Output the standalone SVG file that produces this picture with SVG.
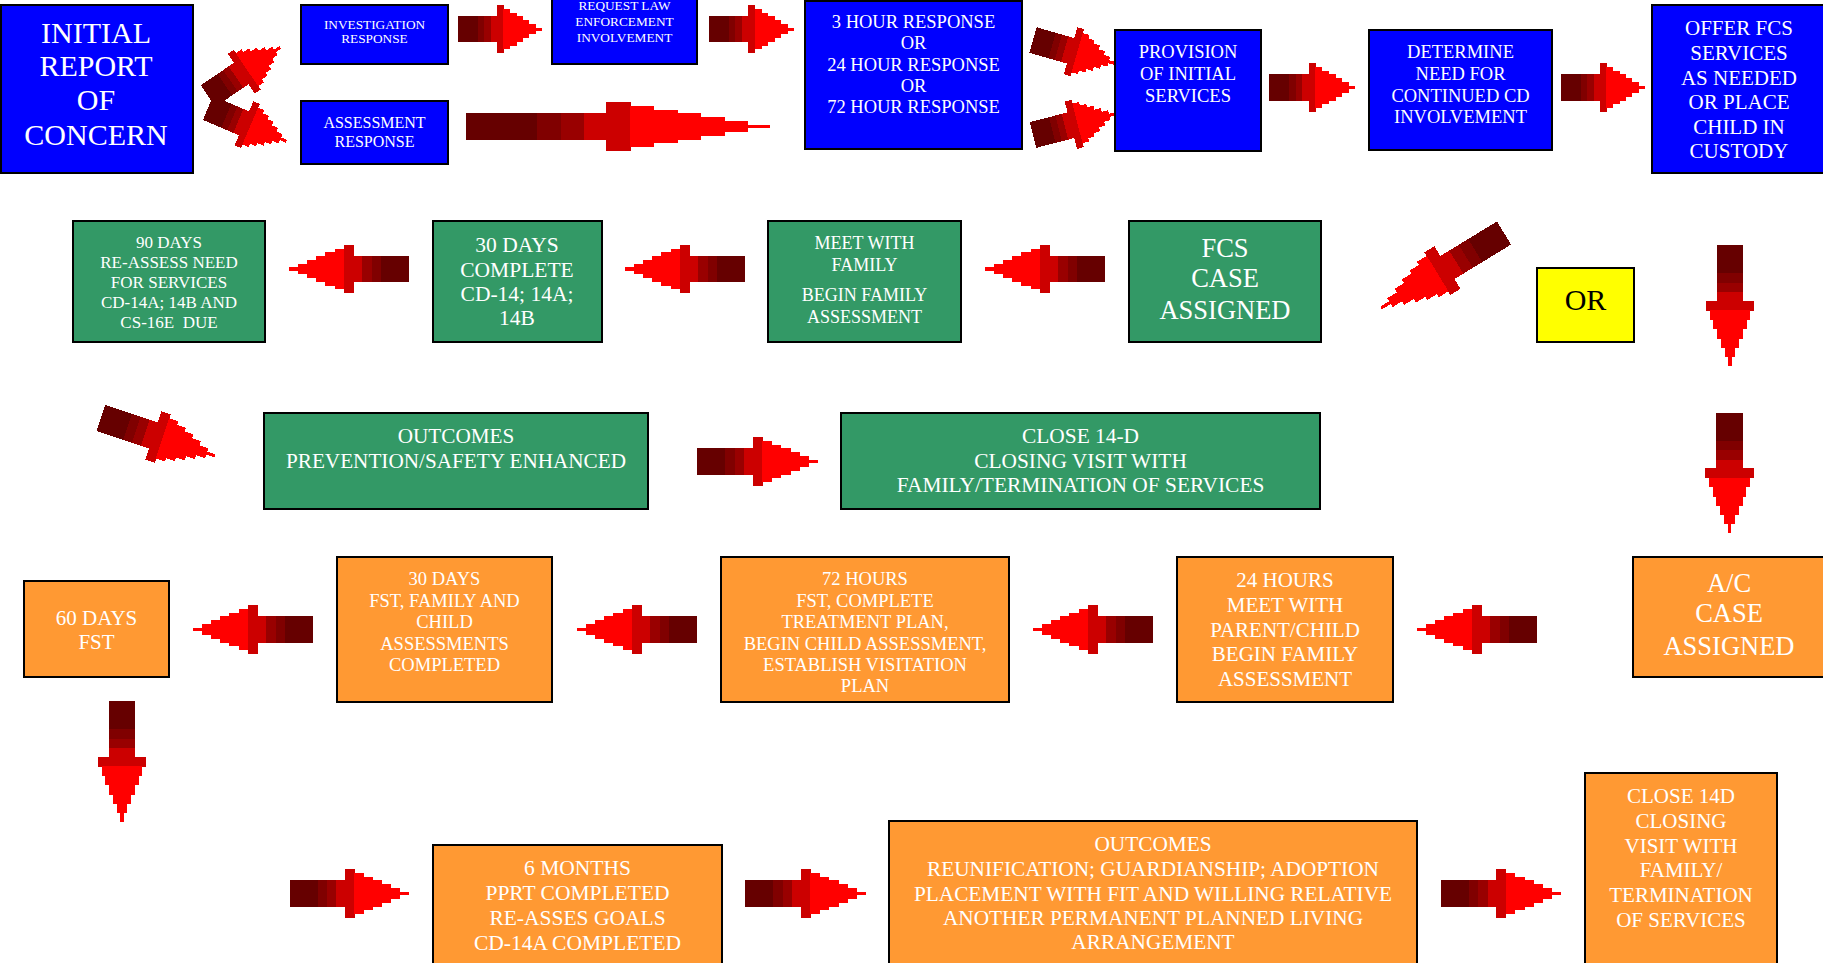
<svg xmlns="http://www.w3.org/2000/svg" xmlns:xlink="http://www.w3.org/1999/xlink" width="1823" height="963" viewBox="0 0 1823 963">
<style>
.box{stroke:#000;stroke-width:2}
.blue{fill:#0000FF}
.green{fill:#339966}
.orange{fill:#FF9933}
.yellow{fill:#FFFF00}
text{font-family:"Liberation Serif","Times New Roman",serif;fill:#fff;text-anchor:middle}
.dark{fill:#000}
</style>
<defs>
<g id="arrow" shape-rendering="crispEdges">
<rect x="0" y="-13" width="23.7" height="26" fill="#660000"/>
<rect x="23.4" y="-13" width="8" height="26" fill="#800000"/>
<rect x="31.1" y="-13" width="8" height="26" fill="#990000"/>
<rect x="38.8" y="-13" width="7.5" height="26" fill="#CC0000"/>
<rect x="46" y="-24" width="8.3" height="48" fill="#CC0000"/>
<rect x="54" y="-20" width="8" height="40" fill="#FF0000"/>
<rect x="61.7" y="-16.5" width="8" height="33" fill="#FF0000"/>
<rect x="69.4" y="-13" width="8" height="26" fill="#FF0000"/>
<rect x="77.1" y="-9" width="8" height="18" fill="#FF0000"/>
<rect x="84.8" y="-5" width="8" height="10" fill="#FF0000"/>
<rect x="92.5" y="-1.5" width="7.5" height="3" fill="#FF0000"/>
</g>
</defs>
<rect width="1823" height="963" fill="#fff"/>

<g id="connectors">
<use xlink:href="#arrow" transform="translate(208 96) rotate(-34) scale(0.87 1)"/>
<use xlink:href="#arrow" transform="translate(208 108) rotate(23) scale(0.85 1)"/>
<use xlink:href="#arrow" transform="translate(458 29) scale(0.84 1)"/>
<use xlink:href="#arrow" transform="translate(709 29) scale(0.85 1)"/>
<use xlink:href="#arrow" transform="translate(466 126.5) scale(3.04 1.02)"/>
<use xlink:href="#arrow" transform="translate(1033 40) rotate(16) scale(0.85 1.02)"/>
<use xlink:href="#arrow" transform="translate(1033 135) rotate(-14.5) scale(0.85 1.02)"/>
<use xlink:href="#arrow" transform="translate(1269 87.5) scale(0.86 1.02)"/>
<use xlink:href="#arrow" transform="translate(1561 87.5) scale(0.84 1.02)"/>
<use xlink:href="#arrow" transform="translate(1730 245) rotate(90) scale(1.21 1.02)"/>
<use xlink:href="#arrow" transform="translate(1504 233) rotate(148.6) scale(1.44 1.04)"/>
<use xlink:href="#arrow" transform="translate(409 269) rotate(180) scale(1.2 1.01)"/>
<use xlink:href="#arrow" transform="translate(745 269) rotate(180) scale(1.2 1.01)"/>
<use xlink:href="#arrow" transform="translate(1105 269) rotate(180) scale(1.2 1.01)"/>
<use xlink:href="#arrow" transform="translate(101 418) rotate(18.4) scale(1.2 1.06)"/>
<use xlink:href="#arrow" transform="translate(697 461.5) scale(1.21 1.02)"/>
<use xlink:href="#arrow" transform="translate(1729.5 413) rotate(90) scale(1.2 1.02)"/>
<use xlink:href="#arrow" transform="translate(313 629.5) rotate(180) scale(1.2 1.02)"/>
<use xlink:href="#arrow" transform="translate(697 629.5) rotate(180) scale(1.2 1.02)"/>
<use xlink:href="#arrow" transform="translate(1153 629.5) rotate(180) scale(1.2 1.02)"/>
<use xlink:href="#arrow" transform="translate(1537 629.5) rotate(180) scale(1.2 1.02)"/>
<use xlink:href="#arrow" transform="translate(122 701) rotate(90) scale(1.21 1.02)"/>
<use xlink:href="#arrow" transform="translate(290 893.5) scale(1.19 1.02)"/>
<use xlink:href="#arrow" transform="translate(745 893.5) scale(1.21 1.02)"/>
<use xlink:href="#arrow" transform="translate(1441 893.5) scale(1.2 1.02)"/>
</g>

<g id="initial-report">
<rect class="box blue" x="1" y="5" width="192" height="168"/>
<text font-size="30" x="96"><tspan x="96" y="43">INITIAL</tspan><tspan x="96" y="76">REPORT</tspan><tspan x="96" y="110">OF</tspan><tspan x="96" y="145">CONCERN</tspan></text>
</g>
<g id="investigation-response">
<rect class="box blue" x="301" y="5" width="147" height="59"/>
<text font-size="13.3"><tspan x="374.5" y="29">INVESTIGATION</tspan><tspan x="374.5" y="43">RESPONSE</tspan></text>
</g>
<g id="assessment-response">
<rect class="box blue" x="301" y="101" width="147" height="63"/>
<text font-size="16"><tspan x="374.5" y="128">ASSESSMENT</tspan><tspan x="374.5" y="147">RESPONSE</tspan></text>
</g>
<g id="request-law">
<rect class="box blue" x="552" y="-2" width="145" height="66"/>
<text font-size="13.3"><tspan x="624.5" y="10">REQUEST LAW</tspan><tspan x="624.5" y="26">ENFORCEMENT</tspan><tspan x="624.5" y="42">INVOLVEMENT</tspan></text>
</g>
<g id="hour-response">
<rect class="box blue" x="805" y="1" width="217" height="148"/>
<text font-size="18.5"><tspan x="913.5" y="28">3 HOUR RESPONSE</tspan><tspan x="913.5" y="49">OR</tspan><tspan x="913.5" y="71">24 HOUR RESPONSE</tspan><tspan x="913.5" y="92">OR</tspan><tspan x="913.5" y="113">72 HOUR RESPONSE</tspan></text>
</g>
<g id="provision">
<rect class="box blue" x="1115" y="30" width="146" height="121"/>
<text font-size="18.5"><tspan x="1188" y="58">PROVISION</tspan><tspan x="1188" y="80">OF INITIAL</tspan><tspan x="1188" y="102">SERVICES</tspan></text>
</g>
<g id="determine">
<rect class="box blue" x="1369" y="30" width="183" height="120"/>
<text font-size="18.5"><tspan x="1460.5" y="58">DETERMINE</tspan><tspan x="1460.5" y="80">NEED FOR</tspan><tspan x="1460.5" y="102">CONTINUED CD</tspan><tspan x="1460.5" y="123">INVOLVEMENT</tspan></text>
</g>
<g id="offer-fcs">
<rect class="box blue" x="1652" y="5" width="174" height="168"/>
<text font-size="21"><tspan x="1739" y="35">OFFER FCS</tspan><tspan x="1739" y="60">SERVICES</tspan><tspan x="1739" y="85">AS NEEDED</tspan><tspan x="1739" y="109">OR PLACE</tspan><tspan x="1739" y="134">CHILD IN</tspan><tspan x="1739" y="158">CUSTODY</tspan></text>
</g>

<g id="days-90">
<rect class="box green" x="73" y="221" width="192" height="121"/>
<text font-size="17" xml:space="preserve"><tspan x="169" y="248">90 DAYS</tspan><tspan x="169" y="268">RE-ASSESS NEED</tspan><tspan x="169" y="288">FOR SERVICES</tspan><tspan x="169" y="308">CD-14A; 14B AND</tspan><tspan x="169" y="328">CS-16E  DUE</tspan></text>
</g>
<g id="days-30-complete">
<rect class="box green" x="433" y="221" width="169" height="121"/>
<text font-size="21.5"><tspan x="517" y="252">30 DAYS</tspan><tspan x="517" y="277">COMPLETE</tspan><tspan x="517" y="301">CD-14; 14A;</tspan><tspan x="517" y="325">14B</tspan></text>
</g>
<g id="meet-family">
<rect class="box green" x="768" y="221" width="193" height="121"/>
<text font-size="18"><tspan x="864.5" y="249">MEET WITH</tspan><tspan x="864.5" y="271">FAMILY</tspan><tspan x="864.5" y="301">BEGIN FAMILY</tspan><tspan x="864.5" y="323">ASSESSMENT</tspan></text>
</g>
<g id="fcs-case">
<rect class="box green" x="1129" y="221" width="192" height="121"/>
<text font-size="26.5"><tspan x="1225" y="257">FCS</tspan><tspan x="1225" y="287">CASE</tspan><tspan x="1225" y="319">ASSIGNED</tspan></text>
</g>
<g id="or">
<rect class="box yellow" x="1537" y="268" width="97" height="74"/>
<text class="dark" font-size="30" x="1585.5" y="310">OR</text>
</g>

<g id="outcomes-prevention">
<rect class="box green" x="264" y="413" width="384" height="96"/>
<text font-size="21.2"><tspan x="456" y="443">OUTCOMES</tspan><tspan x="456" y="468">PREVENTION/SAFETY ENHANCED</tspan></text>
</g>
<g id="close-14d-fcs">
<rect class="box green" x="841" y="413" width="479" height="96"/>
<text font-size="21.4"><tspan x="1080.5" y="443">CLOSE 14-D</tspan><tspan x="1080.5" y="468">CLOSING VISIT WITH</tspan><tspan x="1080.5" y="492">FAMILY/TERMINATION OF SERVICES</tspan></text>
</g>

<g id="ac-case">
<rect class="box orange" x="1633" y="557" width="193" height="120"/>
<text font-size="26.5"><tspan x="1729" y="592">A/C</tspan><tspan x="1729" y="622">CASE</tspan><tspan x="1729" y="655">ASSIGNED</tspan></text>
</g>
<g id="hours-24">
<rect class="box orange" x="1177" y="557" width="216" height="145"/>
<text font-size="21"><tspan x="1285" y="587">24 HOURS</tspan><tspan x="1285" y="612">MEET WITH</tspan><tspan x="1285" y="637">PARENT/CHILD</tspan><tspan x="1285" y="661">BEGIN FAMILY</tspan><tspan x="1285" y="686">ASSESSMENT</tspan></text>
</g>
<g id="hours-72">
<rect class="box orange" x="721" y="557" width="288" height="145"/>
<text font-size="18.5"><tspan x="865" y="585">72 HOURS</tspan><tspan x="865" y="606.5">FST, COMPLETE</tspan><tspan x="865" y="628">TREATMENT PLAN,</tspan><tspan x="865" y="649.5">BEGIN CHILD ASSESSMENT,</tspan><tspan x="865" y="671">ESTABLISH VISITATION</tspan><tspan x="865" y="692">PLAN</tspan></text>
</g>
<g id="days-30-fst">
<rect class="box orange" x="337" y="557" width="215" height="145"/>
<text font-size="18.5"><tspan x="444.5" y="585">30 DAYS</tspan><tspan x="444.5" y="606.5">FST, FAMILY AND</tspan><tspan x="444.5" y="628">CHILD</tspan><tspan x="444.5" y="649.5">ASSESSMENTS</tspan><tspan x="444.5" y="671">COMPLETED</tspan></text>
</g>
<g id="days-60">
<rect class="box orange" x="24" y="581" width="145" height="96"/>
<text font-size="21"><tspan x="96.5" y="625">60 DAYS</tspan><tspan x="96.5" y="649">FST</tspan></text>
</g>

<g id="months-6">
<rect class="box orange" x="433" y="845" width="289" height="125"/>
<text font-size="21.5"><tspan x="577.5" y="875">6 MONTHS</tspan><tspan x="577.5" y="900">PPRT COMPLETED</tspan><tspan x="577.5" y="925">RE-ASSES GOALS</tspan><tspan x="577.5" y="950">CD-14A COMPLETED</tspan></text>
</g>
<g id="outcomes-permanency">
<rect class="box orange" x="889" y="821" width="528" height="150"/>
<text font-size="21.3"><tspan x="1153" y="851">OUTCOMES</tspan><tspan x="1153" y="876">REUNIFICATION; GUARDIANSHIP; ADOPTION</tspan><tspan x="1153" y="901">PLACEMENT WITH FIT AND WILLING RELATIVE</tspan><tspan x="1153" y="925">ANOTHER PERMANENT PLANNED LIVING</tspan><tspan x="1153" y="949">ARRANGEMENT</tspan></text>
</g>
<g id="close-14d-ac">
<rect class="box orange" x="1585" y="773" width="192" height="200"/>
<text font-size="21"><tspan x="1681" y="803">CLOSE 14D</tspan><tspan x="1681" y="828">CLOSING</tspan><tspan x="1681" y="853">VISIT WITH</tspan><tspan x="1681" y="877">FAMILY/</tspan><tspan x="1681" y="902">TERMINATION</tspan><tspan x="1681" y="927">OF SERVICES</tspan></text>
</g>
</svg>
